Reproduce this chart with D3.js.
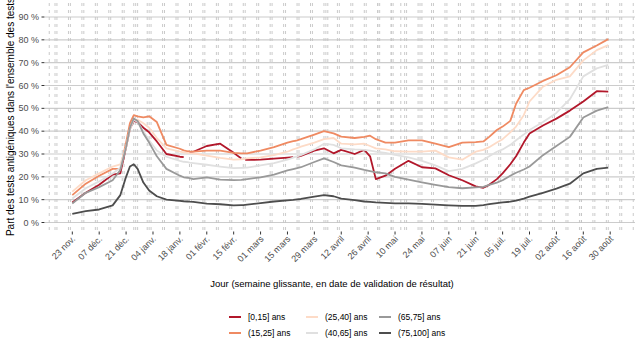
<!DOCTYPE html>
<html>
<head>
<meta charset="utf-8">
<script src="https://cdn.jsdelivr.net/npm/d3@7"></script>
<style>
  body { margin: 0; background: #fff; }
  svg { display: block; font-family: "Liberation Sans", Arial, sans-serif; }
</style>
</head>
<body>
<svg id="chart" width="635" height="353"></svg>
<script>
// dates (semaine glissante)
const dates = ["2020-11-23","2020-11-30","2020-12-07","2020-12-14","2020-12-18","2020-12-21","2020-12-23","2020-12-25","2020-12-27","2020-12-30",
  "2021-01-02","2021-01-06","2021-01-11","2021-01-18","2021-01-20","2021-01-22","2021-01-23","2021-01-25","2021-02-01","2021-02-08",
  "2021-02-15","2021-02-19","2021-02-20","2021-02-21","2021-02-22","2021-03-01","2021-03-08","2021-03-15","2021-03-18","2021-03-19",
  "2021-03-20","2021-03-22","2021-03-29","2021-04-03","2021-04-08","2021-04-12","2021-04-19","2021-04-24","2021-04-27","2021-04-30",
  "2021-05-05","2021-05-10","2021-05-17","2021-05-24","2021-05-31","2021-06-07","2021-06-14","2021-06-21","2021-06-25","2021-06-28",
  "2021-07-02","2021-07-05","2021-07-09","2021-07-12","2021-07-16","2021-07-19","2021-07-26","2021-08-02","2021-08-09","2021-08-16",
  "2021-08-23","2021-08-29"]

// part des tests antigéniques (%) par classe d'age
const age0_15 = [8.8,13,16.5,21,21.5,33,41,44.5,44,41.5, 39.5,35.5,30,28.8,28.6,null,30.5,31,33.5,34.5,
  30.5,28,null,27.4,27.4,27.5,28,28.4,28.6,null, 28.8,29.2,31.5,32.5,30.3,31.8,30,31.8,29,19,
  20.5,23.5,27,24.2,23.7,20.7,18.5,15.8,15.2,16.5, 19,21.5,25.5,29,35,39,42.5,45.5,49,53, 57.5,57.3]
const age15_25 = [12,17,20.5,23.5,23.5,35,43.5,47,46.5,46, 46.5,44,34,32.3,31.6,31.2,31.1,31,31.5,31.5,
  30.5,30.3,30.3,30.3,30.3,31.5,33,35,35.6,35.8, 36,36.5,38.5,40,39,37.6,37,37.5,38,36.5,
  35,35,36,36,34.5,33,35,35.2,35.5,37.5, 40.5,42,44.5,52,58,59,62,64.5,68,74.5, 77.5,80.3]
const age25_40 = [13.5,18.5,21.5,24.5,25.5,33,41,45,45,43.5, 41.5,37,32.5,31,30.7,30.5,30.4,30.3,29.3,28.3,
  27.5,27.7,27.8,28,28.1,28.5,29.5,31,32,32.3, 32.6,33.2,35,36.5,37,34.5,34.2,34.5,33.5,32.5,
  32,31.2,31,31,31.5,28.5,27.5,31,31.8,33, 35,36.5,39.5,42,47,53,59.5,62.5,64,71, 75.5,77.7]
const age40_65 = [10.5,15,18,21.5,24,33,41,45,44,40, 36,31.5,28.8,27,26.6,26.4,26.2,26,25.3,24.5,
  23.8,23.9,23.9,24,24,25,26,27.5,28.4,28.7, 29,29.5,32,34.5,34,32.5,32,31.8,31.5,31,
  30.5,29.6,28.5,27,25,22.5,23.5,25.9,27.5,29, 31,32,34,36,38.5,40.5,44,48,54,64, 67.5,69]
const age65_75 = [8.3,13,15.5,18.5,23,33,41.5,45.6,44.5,39, 35,29,23.5,20.5,19.8,19.6,19.4,19,19.8,18.8,
  18.6,18.7,18.8,18.9,19,19.8,21,22.8,23.4,23.6, 23.8,24.2,26.5,28.1,26.5,25,24,23,22.5,22,
  21.5,20,18.8,17.6,16.5,15.5,15,15.4,15.6,16.5, 17.5,18.5,20.5,21.8,23.2,24.5,29.5,33.5,37.5,46, 49,50.5]
const age75_100 = [3.8,5,5.7,7.5,12,20,24.5,25.5,23.5,17.5, 14,11.5,10,9.5,9.3,9.2,9.1,9,8.3,8,
  7.5,7.6,7.6,7.7,7.8,8.5,9.2,9.7,9.9,10, 10.1,10.3,11.3,12,11.5,10.5,9.8,9.2,9,8.8,
  8.6,8.4,8.4,8.2,7.8,7.5,7.3,7.3,7.6,8, 8.5,8.8,9.1,9.6,10.5,11.3,13,14.8,17,21.5, 23.5,24]

const ageLabels = ["[0,15] ans", "(15,25] ans", "(25,40] ans", "(40,65] ans", "(65,75] ans", "(75,100] ans"]
const ageColors = ["#b2182b", "#ef8a62", "#fddbc7", "#e0e0e0", "#999999", "#4d4d4d"]

// axes
const tickDates = ["2020-11-23","2020-12-07","2020-12-21","2021-01-04","2021-01-18","2021-02-01","2021-02-15",
  "2021-03-01","2021-03-15","2021-03-29","2021-04-12","2021-04-26","2021-05-10","2021-05-24","2021-06-07",
  "2021-06-21","2021-07-05","2021-07-19","2021-08-02","2021-08-16","2021-08-30"]
const yTicks = [0, 10, 20, 30, 40, 50, 60, 70, 80, 90]
// jours fériés (lignes pointillées, avec les week-ends)
const holidays = ["2020-11-11","2020-12-25","2021-01-01","2021-04-05","2021-05-01","2021-05-08",
  "2021-05-13","2021-05-24","2021-07-14","2021-08-15"]

const parse = d3.timeParse("%Y-%m-%d")
const fr = d3.timeFormatLocale({
  dateTime: "%A %e %B %Y à %X", date: "%d/%m/%Y", time: "%H:%M:%S",
  periods: ["AM", "PM"],
  days: ["dimanche","lundi","mardi","mercredi","jeudi","vendredi","samedi"],
  shortDays: ["dim.","lun.","mar.","mer.","jeu.","ven.","sam."],
  months: ["janvier","février","mars","avril","mai","juin","juillet","août","septembre","octobre","novembre","décembre"],
  shortMonths: ["janv.","févr.","mars","avril","mai","juin","juil.","août","sept.","oct.","nov.","déc."]
})
const fmt = fr.format("%d %b")

const svg = d3.select("#chart")
const panel = { left: 45, right: 635, top: 3, bottom: 231 }

const x = d3.scaleTime()
  .domain([parse("2020-11-23"), parse("2021-08-30")])
  .range([72.3, 610.2])
const y = d3.scaleLinear().domain([0, 90]).range([222.5, 17])

// grille horizontale
svg.append("g").selectAll("line")
  .data(yTicks)
  .join("line")
  .attr("x1", panel.left).attr("x2", panel.right)
  .attr("y1", d => y(d)).attr("y2", d => y(d))
  .attr("stroke", "#cccccc").attr("stroke-width", 1.1)

// week-ends + fériés en pointillés
const days = d3.timeDay.range(x.invert(panel.left), x.invert(panel.right))
  .filter(d => d.getDay() === 0 || d.getDay() === 6)
  .concat(holidays.map(parse))
svg.append("g").selectAll("line")
  .data(days)
  .join("line")
  .attr("x1", d => x(d)).attr("x2", d => x(d))
  .attr("y1", panel.top).attr("y2", panel.bottom)
  .attr("stroke", "#c4c4c4").attr("stroke-width", 0.9)
  .attr("stroke-dasharray", "3,4")

// axe y
const yAxis = svg.append("g")
yAxis.selectAll("text")
  .data(yTicks)
  .join("text")
  .attr("x", 39).attr("y", d => y(d)).attr("dy", "0.35em")
  .attr("text-anchor", "end")
  .attr("font-size", 9).attr("fill", "#4d4d4d")
  .text(d => d + " %")
yAxis.selectAll("line")
  .data(yTicks)
  .join("line")
  .attr("x1", 41.5).attr("x2", 44.5)
  .attr("y1", d => y(d)).attr("y2", d => y(d))
  .attr("stroke", "#333")

// axe x
const xAxis = svg.append("g")
xAxis.selectAll("line")
  .data(tickDates.map(parse))
  .join("line")
  .attr("x1", d => x(d)).attr("x2", d => x(d))
  .attr("y1", 231.5).attr("y2", 234.5)
  .attr("stroke", "#333")
xAxis.selectAll("text")
  .data(tickDates.map(parse))
  .join("text")
  .attr("transform", d => `translate(${x(d) - 1},235) rotate(-45)`)
  .attr("dy", "0.71em")
  .attr("text-anchor", "end")
  .attr("font-size", 9).attr("fill", "#4d4d4d")
  .text(d => fmt(d))

// courbes
const series = [age0_15, age15_25, age25_40, age40_65, age65_75, age75_100]
const line = d3.line()
  .defined(d => d.v != null)
  .x(d => x(d.date))
  .y(d => y(d.v))

svg.append("g").selectAll("path")
  .data(series.map((s, i) => ({ i, pts: dates.map((dt, k) => ({ date: parse(dt), v: s[k] })) })))
  .join("path")
  .attr("d", d => line(d.pts))
  .attr("fill", "none")
  .attr("stroke", d => ageColors[d.i])
  .attr("stroke-width", 1.8)
  .attr("stroke-linejoin", "round")

// titres
svg.append("text")
  .attr("transform", "translate(14,117) rotate(-90)")
  .attr("text-anchor", "middle")
  .attr("font-size", 10)
  .attr("fill", "#000")
  .text("Part des tests antigéniques dans l'ensemble des tests")

svg.append("text")
  .attr("x", 332).attr("y", 287)
  .attr("text-anchor", "middle")
  .attr("font-size", 9.5)
  .attr("fill", "#000")
  .text("Jour (semaine glissante, en date de validation de résultat)")

// légende
const legX = [229, 306, 379]
const legY = [317, 333]
const legend = svg.append("g").selectAll("g")
  .data(ageLabels)
  .join("g")
  .attr("transform", (d, i) => `translate(${legX[Math.floor(i / 2)]},${legY[i % 2]})`)
legend.append("line")
  .attr("x1", 0).attr("x2", 12)
  .attr("stroke", (d, i) => ageColors[i])
  .attr("stroke-width", 2)
legend.append("text")
  .attr("x", 19).attr("dy", "0.35em")
  .attr("font-size", 8.5).attr("fill", "#000")
  .text(d => d)
</script>
</body>
</html>
